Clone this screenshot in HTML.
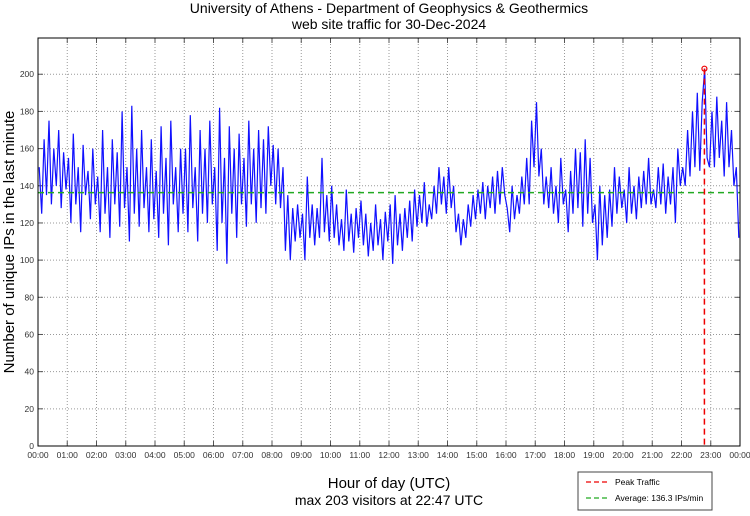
<!DOCTYPE html>
<html><head><meta charset="utf-8"><style>
body{margin:0;background:#fff;width:750px;height:511px;overflow:hidden;font-family:"Liberation Sans",sans-serif}
</style></head><body>
<svg id="chart" width="750" height="511" xmlns="http://www.w3.org/2000/svg" font-family="Liberation Sans, sans-serif">
<text x="389" y="13" font-size="14" text-anchor="middle">University of Athens - Department of Geophysics &amp; Geothermics</text>
<text x="389" y="29" font-size="14" text-anchor="middle">web site traffic for 30-Dec-2024</text>
<g id="grid"></g>
<g id="axes"></g>
<g id="series"></g>
<rect x="38" y="38" width="702" height="408" fill="none" stroke="#000" stroke-width="1"/>
<text transform="translate(14,242) rotate(-90)" font-size="15" text-anchor="middle">Number of unique IPs in the last minute</text>
<text x="389" y="488" font-size="15" text-anchor="middle">Hour of day (UTC)</text>
<text x="389" y="505" font-size="14" text-anchor="middle">max 203 visitors at 22:47 UTC</text>
<g>
<rect x="578" y="472" width="134" height="38" fill="#fff" stroke="#444" stroke-width="1"/>
<line x1="586" y1="482" x2="610" y2="482" stroke="#e00" stroke-width="1.3" stroke-dasharray="5,3"/>
<text x="615" y="485" font-size="8.5">Peak Traffic</text>
<line x1="586" y1="498" x2="610" y2="498" stroke="#2a2" stroke-width="1.3" stroke-dasharray="5,3"/>
<text x="615" y="501" font-size="8.5">Average: 136.3 IPs/min</text>
</g>
</svg>
<script>
const yTicks=[0,20,40,60,80,100,120,140,160,180,200];
const hourLabels=["00:00","01:00","02:00","03:00","04:00","05:00","06:00","07:00","08:00","09:00","10:00","11:00","12:00","13:00","14:00","15:00","16:00","17:00","18:00","19:00","20:00","21:00","22:00","23:00","00:00"];
const visitors=[
150,125,165,135,175,130,160,140,170,128,158,138,
155,120,168,130,150,115,162,135,148,122,160,130,
145,115,170,125,150,112,165,130,158,118,180,128,
150,110,183,125,160,118,170,128,150,115,165,122,
148,112,172,125,155,108,175,130,150,115,160,125,
160,115,178,128,150,110,170,125,160,120,175,130,
150,105,182,120,155,98,172,125,160,112,168,130,
155,118,175,130,160,120,170,128,165,125,172,140,
162,130,160,128,150,105,135,100,128,110,130,112,
125,100,145,112,130,108,128,112,155,115,135,110,
140,112,130,108,122,105,138,110,125,104,128,112,
132,108,125,102,120,105,130,108,122,100,126,110,
130,98,135,108,125,105,128,112,132,110,138,118,
135,120,142,118,130,122,140,125,150,130,145,125,
150,128,140,115,125,108,122,112,130,118,135,122,
138,125,142,122,140,128,145,125,148,130,150,135,
128,115,140,122,135,125,145,130,155,130,175,150,
185,145,160,130,145,128,150,125,140,120,155,130,
138,115,148,125,160,128,158,118,165,125,155,120,
130,100,140,108,135,112,138,118,150,125,145,128,
138,120,150,125,140,122,145,128,148,130,155,130,
138,128,150,130,152,125,145,130,150,120,160,140,
150,140,170,145,180,150,190,148,185,203,155,150,
180,150,188,155,175,145,185,150,170,140,150,112];
const stepMinutes=[5];
const averageValue=[136.3];
const peakValue=[203];
const peakMinute=[22*60+47];

const X0=38,X1=740,Y0=446,Y1=38,YMAX=219.5;
const xS=m=>X0+(X1-X0)*m/1440;
const yS=v=>Y0-(Y0-Y1)*v/YMAX;
const NS="http://www.w3.org/2000/svg";
function mk(t,a,p){const e=document.createElementNS(NS,t);for(const k in a)e.setAttribute(k,a[k]);p.appendChild(e);return e;}
const grid=document.getElementById('grid'),axes=document.getElementById('axes'),series=document.getElementById('series');
yTicks.forEach(v=>{
 const y=yS(v);
 if(v>0){const g=mk('line',{x1:X0,x2:X1,y1:y,y2:y,stroke:'#999','stroke-width':1,'stroke-dasharray':'1,2'},grid);
 
 }
 const t1=mk('line',{x1:X0,x2:X0+5,y1:y,y2:y,stroke:'#555'},axes);
 
 
 const t2=mk('line',{x1:X1-5,x2:X1,y1:y,y2:y,stroke:'#555'},axes);
 
 
 const l=mk('text',{x:X0-4,y:y+3,'font-size':8.5,'text-anchor':'end',fill:'#333'},axes);l.textContent=v;
 
 
});
hourLabels.forEach((h,i)=>{
 const x=xS(i*60);
 if(i>0&&i<24){const g=mk('line',{x1:x,x2:x,y1:Y1,y2:Y0,stroke:'#999','stroke-width':1,'stroke-dasharray':'1,2'},grid);
 
 }
 const t1=mk('line',{x1:x,x2:x,y1:Y0-5,y2:Y0,stroke:'#555'},axes);
 
 
 const t2=mk('line',{x1:x,x2:x,y1:Y1,y2:Y1+5,stroke:'#555'},axes);
 
 
 const l=mk('text',{x:x,y:Y0+12,'font-size':8.5,'text-anchor':'middle',fill:'#333'},axes);l.textContent=h;
 
 
});
const pts=visitors.map((v,i)=>xS(i*stepMinutes[0]+2.5).toFixed(1)+','+yS(v).toFixed(1)).join(' ');
const pl=mk('polyline',{points:pts,fill:'none',stroke:'#1010ff','stroke-width':1.2,'stroke-linejoin':'miter'},series);


const av=mk('line',{x1:X0,x2:X1,y1:yS(averageValue[0]),y2:yS(averageValue[0]),stroke:'#2a2','stroke-width':1.5,'stroke-dasharray':'6,4'},series);


const pk=mk('line',{x1:xS(peakMinute[0]),x2:xS(peakMinute[0]),y1:yS(peakValue[0]),y2:Y0,stroke:'#e00','stroke-width':1.5,'stroke-dasharray':'6,4'},series);


const pm=mk('circle',{cx:xS(peakMinute[0]),cy:yS(peakValue[0]),r:2.5,fill:'none',stroke:'#e00','stroke-width':1.2},series);


</script>
</body></html>
